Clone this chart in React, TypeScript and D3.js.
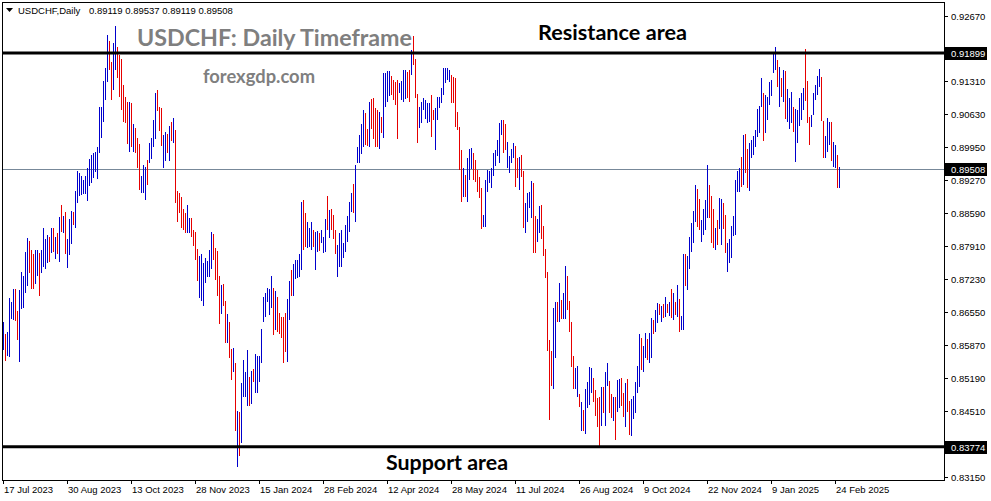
import React from 'react';
import * as d3 from 'd3';

// Daily bar highs (index 0 = 17 Jul 2023)
const highs = [
0.8634,0.8609,0.8615,0.8685,0.8675,0.8702,0.8702,0.8658,0.8700,0.8737,
0.8730,0.8780,0.8807,0.8801,0.8784,0.8776,0.8784,0.8784,0.8778,0.8784,
0.8829,0.8805,0.8815,0.8811,0.8829,0.8829,0.8811,0.8819,0.8852,0.8877,
0.8854,0.8862,0.8805,0.8848,0.8864,0.8862,0.8905,0.8947,0.8943,0.8936,
0.8928,0.8936,0.8953,0.8971,0.8980,0.8984,0.8986,0.8996,0.9079,0.9079,
0.9132,0.9159,0.9227,0.9215,0.9171,0.9210,0.9245,0.9202,0.9186,0.9178,
0.9124,0.9099,0.9089,0.9089,0.9087,0.9043,0.9035,0.9015,0.9002,0.8936,
0.8959,0.8955,0.8969,0.9004,0.9015,0.9052,0.9107,0.9113,0.9079,0.9077,
0.9021,0.9027,0.9023,0.9039,0.9048,0.9056,0.9031,0.8905,0.8901,0.8893,
0.8868,0.8860,0.8877,0.8850,0.8850,0.8825,0.8821,0.8786,0.8770,0.8776,
0.8757,0.8767,0.8761,0.8784,0.8821,0.8817,0.8788,0.8782,0.8730,0.8712,
0.8714,0.8679,0.8652,0.8634,0.8580,0.8582,0.8551,0.8452,0.8450,0.8508,
0.8557,0.8531,0.8578,0.8522,0.8533,0.8537,0.8568,0.8564,0.8564,0.8621,
0.8687,0.8695,0.8705,0.8702,0.8730,0.8704,0.8698,0.8687,0.8654,0.8646,
0.8646,0.8654,0.8683,0.8720,0.8743,0.8755,0.8763,0.8763,0.8774,0.8883,
0.8887,0.8860,0.8842,0.8829,0.8842,0.8825,0.8821,0.8823,0.8819,0.8825,
0.8811,0.8848,0.8895,0.8866,0.8868,0.8856,0.8825,0.8794,0.8819,0.8825,
0.8798,0.8835,0.8854,0.8883,0.8901,0.8920,0.8959,0.8996,0.9021,0.9043,
0.9072,0.9066,0.9033,0.9089,0.9095,0.9097,0.9077,0.9072,0.9068,0.9058,
0.9149,0.9149,0.9153,0.9153,0.9142,0.9134,0.9130,0.9134,0.9128,0.9132,
0.9155,0.9155,0.9151,0.9155,0.9196,0.9225,0.9178,0.9105,0.9079,0.9089,
0.9097,0.9093,0.9087,0.9087,0.9103,0.9072,0.9077,0.9099,0.9099,0.9118,
0.9159,0.9159,0.9159,0.9155,0.9144,0.9140,0.9138,0.9068,0.9037,0.8990,
0.8953,0.8938,0.8974,0.8992,0.8994,0.8984,0.8969,0.8949,0.8934,0.8912,
0.8856,0.8928,0.8949,0.8947,0.8953,0.8984,0.8990,0.9011,0.9046,0.9052,
0.9052,0.9043,0.9006,0.8978,0.8992,0.9004,0.8998,0.8974,0.8976,0.8980,
0.8947,0.8881,0.8901,0.8903,0.8926,0.8922,0.8854,0.8848,0.8873,0.8877,
0.8833,0.8786,0.8737,0.8597,0.8574,0.8664,0.8677,0.8675,0.8716,0.8681,
0.8695,0.8751,0.8730,0.8679,0.8634,0.8564,0.8539,0.8543,0.8487,0.8469,
0.8454,0.8496,0.8512,0.8541,0.8539,0.8520,0.8494,0.8477,0.8479,0.8500,
0.8500,0.8531,0.8551,0.8514,0.8487,0.8479,0.8481,0.8516,0.8518,0.8520,
0.8489,0.8508,0.8518,0.8471,0.8475,0.8483,0.8510,0.8545,0.8609,0.8601,
0.8586,0.8613,0.8599,0.8613,0.8644,0.8638,0.8660,0.8673,0.8671,0.8667,
0.8671,0.8687,0.8671,0.8677,0.8702,0.8695,0.8675,0.8712,0.8683,0.8648,
0.8776,0.8776,0.8770,0.8811,0.8838,0.8864,0.8918,0.8910,0.8889,0.8846,
0.8868,0.8887,0.8959,0.8918,0.8895,0.8868,0.8829,0.8846,0.8891,0.8889,
0.8881,0.8856,0.8798,0.8805,0.8833,0.8854,0.8928,0.8947,0.8953,0.8976,
0.9021,0.9023,0.8992,0.9004,0.9011,0.9019,0.9031,0.9074,0.9081,0.9138,
0.9107,0.9103,0.9099,0.9130,0.9134,0.9190,0.9202,0.9175,0.9161,0.9138,
0.9155,0.9153,0.9116,0.9097,0.9109,0.9079,0.9074,0.9072,0.9097,0.9107,
0.9118,0.9198,0.9132,0.9058,0.9062,0.9107,0.9124,0.9142,0.9157,0.9140,
0.9050,0.9019,0.9056,0.9048,0.9048,0.9006,0.9000,0.8980,0.89537,
];

const lows = [
0.8578,0.8555,0.8564,0.8562,0.8640,0.8638,0.8636,0.8597,0.8553,0.8662,
0.8664,0.8695,0.8710,0.8735,0.8702,0.8702,0.8714,0.8730,0.8689,0.8735,
0.8749,0.8745,0.8757,0.8759,0.8778,0.8780,0.8765,0.8774,0.8759,0.8821,
0.8819,0.8776,0.8747,0.8772,0.8796,0.8835,0.8829,0.8881,0.8895,0.8897,
0.8899,0.8899,0.8885,0.8916,0.8922,0.8932,0.8945,0.8930,0.8984,0.9015,
0.9048,0.9093,0.9130,0.9155,0.9093,0.9114,0.9155,0.9138,0.9099,0.9072,
0.9048,0.9046,0.9002,0.8986,0.8996,0.8986,0.8984,0.8953,0.8908,0.8901,
0.8901,0.8887,0.8918,0.8963,0.8971,0.8996,0.9013,0.9070,0.9029,0.8998,
0.8953,0.8967,0.8984,0.8967,0.9008,0.9004,0.8881,0.8840,0.8860,0.8829,
0.8825,0.8819,0.8819,0.8819,0.8811,0.8792,0.8763,0.8720,0.8685,0.8679,
0.8667,0.8716,0.8728,0.8728,0.8745,0.8763,0.8722,0.8689,0.8630,0.8652,
0.8667,0.8592,0.8592,0.8560,0.8516,0.8531,0.8409,0.8335,0.8358,0.8386,
0.8479,0.8479,0.8461,0.8461,0.8465,0.8510,0.8489,0.8489,0.8510,0.8551,
0.8634,0.8646,0.8675,0.8650,0.8664,0.8607,0.8619,0.8615,0.8609,0.8601,
0.8551,0.8572,0.8553,0.8638,0.8689,0.8689,0.8724,0.8726,0.8728,0.8743,
0.8784,0.8790,0.8788,0.8790,0.8784,0.8790,0.8743,0.8780,0.8782,0.8798,
0.8778,0.8780,0.8825,0.8807,0.8825,0.8805,0.8774,0.8728,0.8749,0.8749,
0.8767,0.8780,0.8800,0.8821,0.8862,0.8860,0.8840,0.8963,0.8963,0.8982,
0.8996,0.9000,0.8998,0.8996,0.9033,0.9013,0.8996,0.8996,0.8992,0.9025,
0.9015,0.9079,0.9089,0.9101,0.9103,0.9093,0.9083,0.9013,0.9107,0.9093,
0.9089,0.9095,0.9097,0.9089,0.9144,0.9165,0.9097,0.9004,0.9035,0.9046,
0.9072,0.9054,0.9046,0.9048,0.9017,0.9052,0.8990,0.9052,0.9077,0.9087,
0.9103,0.9128,0.9134,0.9130,0.9087,0.9087,0.9037,0.9031,0.8949,0.8883,
0.8893,0.8893,0.8883,0.8928,0.8951,0.8928,0.8924,0.8903,0.8891,0.8827,
0.8831,0.8831,0.8903,0.8922,0.8912,0.8936,0.8957,0.8978,0.8963,0.9021,
0.8984,0.8990,0.8953,0.8943,0.8963,0.8974,0.8914,0.8932,0.8908,0.8934,
0.8829,0.8819,0.8840,0.8870,0.8850,0.8778,0.8778,0.8800,0.8819,0.8805,
0.8770,0.8726,0.8574,0.8432,0.8502,0.8496,0.8560,0.8634,0.8634,0.8640,
0.8640,0.8640,0.8660,0.8615,0.8541,0.8496,0.8496,0.8479,0.8459,0.8409,
0.8409,0.8403,0.8457,0.8463,0.8489,0.8469,0.8440,0.8419,0.8376,0.8421,
0.8446,0.8421,0.8502,0.8446,0.8436,0.8430,0.8391,0.8450,0.8457,0.8461,
0.8438,0.8418,0.8450,0.8401,0.8399,0.8434,0.8446,0.8489,0.8500,0.8535,
0.8531,0.8560,0.8557,0.8551,0.8560,0.8609,0.8615,0.8632,0.8650,0.8634,
0.8642,0.8646,0.8654,0.8648,0.8644,0.8638,0.8650,0.8646,0.8615,0.8619,
0.8619,0.8708,0.8700,0.8745,0.8780,0.8798,0.8840,0.8831,0.8825,0.8800,
0.8815,0.8825,0.8850,0.8850,0.8798,0.8788,0.8784,0.8794,0.8827,0.8794,
0.8827,0.8778,0.8737,0.8757,0.8767,0.8813,0.8815,0.8903,0.8903,0.8914,
0.8918,0.8943,0.8912,0.8905,0.8974,0.8980,0.8996,0.9017,0.9025,0.9079,
0.9009,0.9025,0.9052,0.9083,0.9101,0.9149,0.9155,0.9120,0.9079,0.9099,
0.9089,0.9054,0.9048,0.9033,0.9046,0.9027,0.8965,0.9004,0.9039,0.9052,
0.9072,0.9091,0.9046,0.9000,0.9037,0.9062,0.9093,0.9103,0.9120,0.9050,
0.8974,0.8974,0.8986,0.9000,0.8967,0.8955,0.8953,0.8912,0.89119,
];

// B = bullish (blue), R = bearish (red)
const barDirections =
  'BRBBBBRRBB' + 'BBBRRRBBRB' + 'BBBRBRBRBR' + 'BRBBBRBBBB' + 'BBBBBBBBBB' +
  'BBBRRBBRRR' + 'RRRBRBRRRB' + 'BBRBBBBRRR' + 'BBRBRBRRRR' + 'RRBBRRRRBB' +
  'BBBBBRRRRB' + 'RRBRRBRBRB' + 'BBBRBRBBBB' + 'BBBBBRBRRR' + 'RRBBRBBBBB' +
  'RRBBBRBBRB' + 'BBRBRRRBBB' + 'BBBBBRBBBB' + 'BRRBRRRRBR' + 'BBBBRRRRBB' +
  'BBRRBRRRBB' + 'BBBBRRBBBB' + 'BBBBRRRRRR' + 'BRBBBRRRRR' + 'BBBBBBBBBB' +
  'RRBBBBRRBR' + 'RBBBBRRBBR' + 'RRRRRBBRBR' + 'BBRRRRBBRB' + 'RBBBBRRRRB' +
  'RBBRRBRBBR' + 'RBRRBBBBBR' + 'BBRBBRBBRB' + 'RBRBRBRBRB' + 'BRBBBBBRRB' +
  'BBBRRRBRBB' + 'RRBBBBBBBR' + 'BRRBBBBBBB' + 'RBBBBBBRBR' + 'BRBBBRBBBB' +
  'BRRRBBBBBR' + 'RBBBRBBRB';

const priceTicks = [0.9267, 0.9199, 0.9131, 0.9063, 0.8995, 0.8927, 0.8859, 0.8791, 0.8723, 0.8655, 0.8587, 0.8519, 0.8451, 0.8383, 0.8315];
const dateTickIndex = [0, 32, 64, 96, 128, 160, 192, 224, 256, 288, 320, 352, 384, 416];
const dateTickLabels = ['17 Jul 2023', '30 Aug 2023', '13 Oct 2023', '28 Nov 2023', '15 Jan 2024', '28 Feb 2024', '12 Apr 2024', '28 May 2024', '11 Jul 2024', '26 Aug 2024', '9 Oct 2024', '22 Nov 2024', '9 Jan 2025', '24 Feb 2025'];

const resistanceLevel = 0.91899;
const supportLevel = 0.83774;
const currentPrice = 0.89508;
const headerOHLC = [0.89119, 0.89537, 0.89119, 0.89508];

const SMALL_FONT = '"Liberation Sans", Arial, sans-serif';
const BIG_FONT = 'Lato, "Open Sans", sans-serif';

export default function App() {
  const W = 991;
  const H = 501;
  const left = 2;
  const right = 944;
  const top = 2;
  const bottom = 480;

  const y = d3.scaleLinear().domain([0.8315, 0.9267]).range([477, 15.5]);
  const x = d3.scaleLinear().domain([0, 418]).range([3, 839]);

  const up = '#0000CC';
  const down = '#E60000';
  const fmt = d3.format('.5f');

  const levels = [resistanceLevel, currentPrice, supportLevel];
  // tick labels hidden behind the level boxes (as in the terminal)
  const labelVisible = (v: number) => levels.every((l) => Math.abs(y(l) - y(v)) > 11);

  const bars = highs.map((h, i) => {
    const l = lows[i];
    const yt = Math.round(y(h));
    const yb = Math.round(y(l));
    return (
      <rect
        key={i}
        x={Math.round(x(i))}
        y={yt}
        width={1}
        height={Math.max(1, yb - yt)}
        fill={barDirections[i] === 'B' ? up : down}
      />
    );
  });

  const levelBox = (v: number, key: string) => {
    const yy = y(v);
    return (
      <g key={key}>
        <rect x={945} y={Math.round(yy) - 6} width={42} height={13} fill="#000" />
        <text x={951} y={Math.round(yy) + 4} fontFamily={SMALL_FONT} fontSize={9.5} fill="#fff">
          {fmt(v)}
        </text>
      </g>
    );
  };

  return (
    <svg
      width={W}
      height={H}
      viewBox={`0 0 ${W} ${H}`}
      style={{ position: 'absolute', left: 0, top: 0, background: '#fff', display: 'block' }}
    >
      <rect x={0} y={0} width={W} height={H} fill="#fff" />

      {/* current price line */}
      <line
        x1={left}
        x2={right}
        y1={Math.round(y(currentPrice)) + 0.5}
        y2={Math.round(y(currentPrice)) + 0.5}
        stroke="#778899"
        strokeWidth={1}
      />

      <g shapeRendering="crispEdges">{bars}</g>

      {/* resistance / support */}
      <line x1={left} x2={right} y1={y(resistanceLevel)} y2={y(resistanceLevel)} stroke="#000" strokeWidth={3} />
      <line x1={left} x2={right} y1={y(supportLevel)} y2={y(supportLevel)} stroke="#000" strokeWidth={3} />

      {/* frame */}
      <rect
        x={left + 0.5}
        y={top + 0.5}
        width={right - left}
        height={bottom - top}
        fill="none"
        stroke="#000"
        strokeWidth={1}
        shapeRendering="crispEdges"
      />

      {/* price axis */}
      <g>
        {priceTicks.map((v) => {
          const yy = Math.round(y(v)) + 0.5;
          return (
            <g key={v}>
              <line x1={right} x2={right + 4} y1={yy} y2={yy} stroke="#000" />
              {labelVisible(v) && (
                <text x={951} y={yy + 3.5} fontFamily={SMALL_FONT} fontSize={9.5} fill="#000">
                  {fmt(v)}
                </text>
              )}
            </g>
          );
        })}
        {levelBox(resistanceLevel, 'r')}
        {levelBox(currentPrice, 'c')}
        {levelBox(supportLevel, 's')}
      </g>

      {/* date axis */}
      <g>
        {dateTickIndex.map((idx, k) => {
          const xx = Math.round(x(idx)) + 0.5;
          return (
            <g key={idx}>
              <line x1={xx} x2={xx} y1={bottom} y2={bottom + 4} stroke="#000" />
              <text x={xx + 0.5} y={493} fontFamily={SMALL_FONT} fontSize={9.5} fill="#000">
                {dateTickLabels[k]}
              </text>
            </g>
          );
        })}
      </g>

      {/* header */}
      <path d="M6,8 L13,8 L9.5,12 Z" fill="#000" />
      <text x={18} y={14} fontFamily={SMALL_FONT} fontSize={9.5} fill="#000">
        USDCHF,Daily
      </text>
      <text x={89} y={14} fontFamily={SMALL_FONT} fontSize={9.5} fill="#000">
        {headerOHLC.map((v) => fmt(v)).join(' ')}
      </text>

      {/* annotations */}
      <text x={137} y={46} fontFamily={BIG_FONT} fontWeight="bold" fontSize={22} fill="#7f7f7f" textLength={275} lengthAdjust="spacingAndGlyphs">
        USDCHF: Daily Timeframe
      </text>
      <text x={203} y={83} fontFamily={BIG_FONT} fontWeight="bold" fontSize={19} fill="#7f7f7f" textLength={112} lengthAdjust="spacingAndGlyphs">
        forexgdp.com
      </text>
      <text x={538} y={40} fontFamily={BIG_FONT} fontWeight="bold" fontSize={21} fill="#000" textLength={149} lengthAdjust="spacingAndGlyphs">
        Resistance area
      </text>
      <text x={386} y={470} fontFamily={BIG_FONT} fontWeight="bold" fontSize={21} fill="#000" textLength={122} lengthAdjust="spacingAndGlyphs">
        Support area
      </text>
    </svg>
  );
}
